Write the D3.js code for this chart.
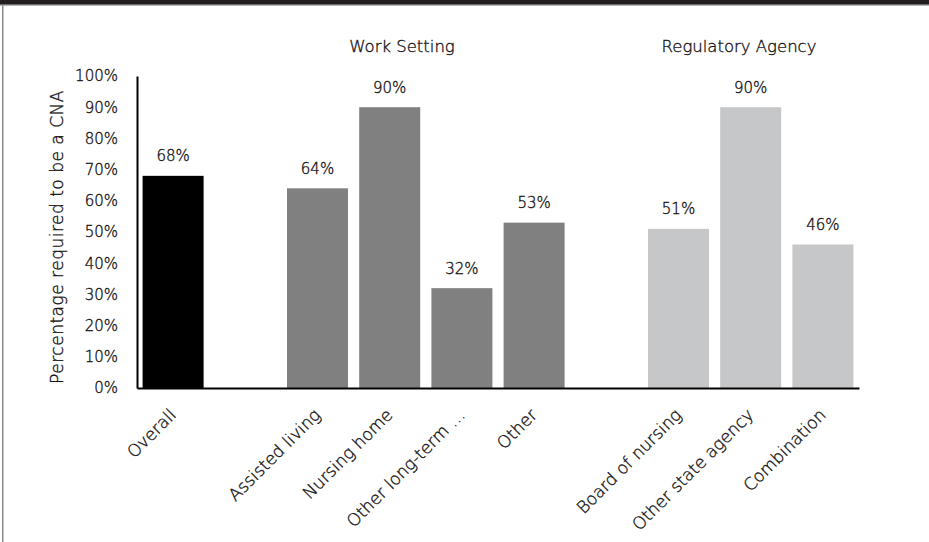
<!DOCTYPE html>
<html>
<head>
<meta charset="utf-8">
<script src="https://cdn.jsdelivr.net/npm/d3@7"></script>
<style>
  body { margin: 0; background: #fff; }
  text {
    font-family: "DejaVu Sans", sans-serif;
    font-weight: 200;
    fill: #141213;
    stroke: #141213;
    stroke-width: 0.35px;
  }
</style>
</head>
<body>
<svg id="chart" width="929" height="542"></svg>
<script>
// Categories along the x axis; blank entries are spacer slots between groups
const categories = ["Overall", "", "Assisted living", "Nursing home", "Other long-term \u2026", "Other", " ", "Board of nursing", "Other state agency", "Combination"];
const values = [68, null, 64, 90, 32, 53, null, 51, 90, 46];
const groupOf = ["overall", null, "work", "work", "work", "work", null, "agency", "agency", "agency"];
const groupNames = ["Work Setting", "Regulatory Agency"];
const yTicks = [0, 10, 20, 30, 40, 50, 60, 70, 80, 90, 100];
const yLabel = "Percentage required to be a CNA";

const colors = { overall: "#000000", work: "#808080", agency: "#c6c7c9" };

const W = 929, H = 542;
const svg = d3.select("#chart");

// Frame: dark band at the top, thin grey rule and left border
svg.append("rect").attr("x", 0).attr("y", 0).attr("width", W).attr("height", 5).attr("fill", "#231f20");
svg.append("rect").attr("x", 0).attr("y", 4.5).attr("width", W).attr("height", 1.5).attr("fill", "#b8b8b8");
svg.append("rect").attr("x", 2).attr("y", 5).attr("width", 1.5).attr("height", H - 5).attr("fill", "#8a8a8a");

const margin = { left: 137, right: W - 859, top: 76, bottom: H - 388 };

const x = d3.scaleBand()
  .domain(d3.range(categories.length))
  .range([margin.left, W - margin.right])
  .paddingInner(0.155)
  .paddingOuter(0.0775);

const y = d3.scaleLinear().domain([0, 100]).range([H - margin.bottom, margin.top]);

// Bars
const items = categories.map((c, i) => ({ i, c, v: values[i], g: groupOf[i] })).filter(d => d.v != null);

svg.append("g").selectAll("rect").data(items).join("rect")
  .attr("x", d => x(d.i))
  .attr("y", d => y(d.v))
  .attr("width", x.bandwidth())
  .attr("height", d => y(0) - y(d.v))
  .attr("fill", d => colors[d.g]);

// Value labels
svg.append("g").selectAll("text").data(items).join("text")
  .attr("x", d => x(d.i) + x.bandwidth() / 2)
  .attr("y", d => y(d.v) - 14.5)
  .attr("text-anchor", "middle")
  .style("font-size", "15px")
  .text(d => d.v + "%");

// Y axis
const yAxis = svg.append("g")
  .attr("transform", `translate(${margin.left},0)`)
  .call(d3.axisLeft(y).tickValues(yTicks).tickFormat(d => d + "%").tickSize(0).tickPadding(19));
yAxis.select(".domain").attr("stroke", "#000").attr("stroke-width", 2);
yAxis.selectAll("text")
  .style("font-size", "15px")
  .attr("font-family", null)
  .attr("fill", null);

// X axis
const xAxis = svg.append("g")
  .attr("transform", `translate(0,${y(0)})`)
  .call(d3.axisBottom(x).tickFormat(i => categories[i].trim()).tickSize(0).tickSizeOuter(0));
xAxis.select(".domain").attr("stroke", "#000").attr("stroke-width", 2);
xAxis.selectAll("text")
  .style("font-size", "17px")
  .attr("font-family", null)
  .attr("fill", null)
  .attr("text-anchor", "end")
  .attr("y", 0)
  .attr("dy", 0)
  .attr("transform", "translate(4,28) rotate(-45)");

// Y axis title
svg.append("text")
  .attr("transform", `translate(63,${(y(0) + y(100)) / 2 + 5}) rotate(-90)`)
  .attr("text-anchor", "middle")
  .style("font-size", "17px")
  .style("letter-spacing", "0.5px")
  .text(yLabel);

// Group titles
const titleX = [402, 739];
svg.append("g").selectAll("text").data(groupNames).join("text")
  .attr("x", (d, i) => titleX[i])
  .attr("y", 52)
  .attr("text-anchor", "middle")
  .style("font-size", "16.5px")
  .text(d => d);
</script>
</body>
</html>
